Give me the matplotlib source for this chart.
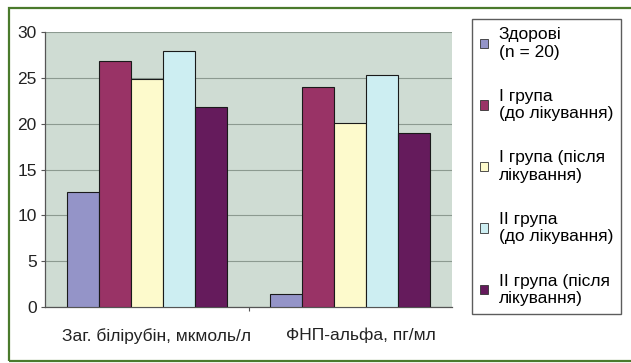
import numpy as np
import matplotlib
matplotlib.use("Agg")
from matplotlib import pyplot as plt
from matplotlib.patches import Rectangle, Patch

plt.rcParams['font.family'] = ['Liberation Sans', 'DejaVu Sans']

categories = ["Заг. білірубін, мкмоль/л", "ФНП-альфа, пг/мл"]
series_names = ["Здорові\n(n = 20)",
                "I група\n(до лікування)",
                "I група (після\nлікування)",
                "II група\n(до лікування)",
                "II група (після\nлікування)"]
values = [[12.5, 1.4],
          [26.8, 24.0],
          [24.9, 20.1],
          [27.9, 25.3],
          [21.8, 19.0]]
colors = ["#9494c8", "#993366", "#fdfacc", "#cdeef2", "#651b5c"]
yticks = [0, 5, 10, 15, 20, 25, 30]

W, H = 631, 363
fs = 12.5
fig = plt.figure(figsize=(W / 100, H / 100), dpi=100)
fig.patch.set_facecolor("white")

# green frame around the whole chart (open on the right)
fig.add_artist(Rectangle((9 / W, 1 - 361 / H), 1.0, (361 - 8) / H,
                         transform=fig.transFigure, fill=False,
                         edgecolor="#4a7a2c", linewidth=1.6))

ax = fig.add_axes([45 / W, 1 - 307 / H, 407 / W, 275 / H])
ax.set_facecolor("#cfdcd3")

x = np.arange(len(categories)) + 0.5
bw = 0.157
handles = []
for i, (name, vals, col) in enumerate(zip(series_names, values, colors)):
    ax.bar(x + (i - 2) * bw, vals, width=bw, color=col, edgecolor="#1a1a1a",
           linewidth=0.8, zorder=3)
    handles.append(Patch(facecolor=col, edgecolor="#333333", linewidth=0.6, label=name))

ax.set_xlim(0, 2)
ax.set_ylim(0, 30)
ax.set_yticks(yticks)
ax.yaxis.grid(True, color="#8c9a90", linewidth=0.8, zorder=0)
ax.set_axisbelow(True)

for side in ["top", "right"]:
    ax.spines[side].set_visible(False)
for side in ["left", "bottom"]:
    ax.spines[side].set_color("#555555")
    ax.spines[side].set_linewidth(0.9)

ax.tick_params(axis="y", length=3, width=0.8, color="#555555", pad=3,
               labelsize=fs, labelcolor="#222222")
ax.set_xticks(x + 0.05)
ax.set_xticklabels(categories)
ax.tick_params(axis="x", which="major", length=0, pad=15, labelsize=fs,
               labelcolor="#222222")
ax.set_xticks([1.0], minor=True)
ax.tick_params(axis="x", which="minor", length=3, width=0.8, color="#555555")

fig.legend(handles=handles, loc="upper left",
           bbox_to_anchor=(472 / W, 1 - 19 / H), bbox_transform=fig.transFigure,
           borderaxespad=0, frameon=True, fancybox=False, edgecolor="#333333",
           fontsize=fs, handlelength=0.45, handleheight=0.45, handletextpad=0.6,
           labelspacing=1.68, borderpad=0.48)
fig.legends[0].get_frame().set_linewidth(1.0)

fig.savefig("out.png", dpi=100)
